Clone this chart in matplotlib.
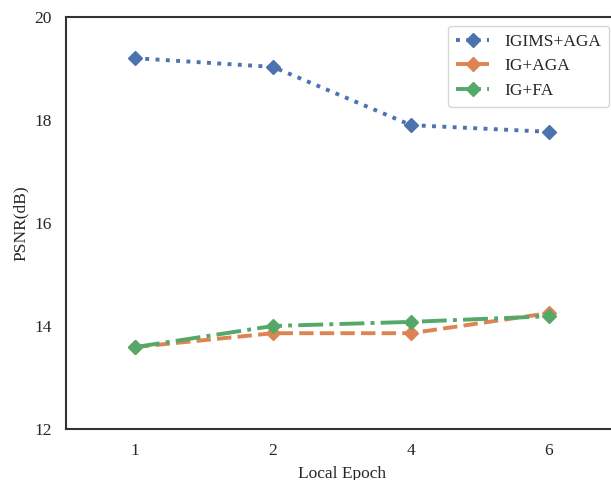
import matplotlib
matplotlib.use("Agg")
import matplotlib.pyplot as plt
import seaborn as sns

# data
epochs = ["1", "2", "4", "6"]
igims_aga = [19.20, 19.03, 17.90, 17.77]
ig_aga = [13.59, 13.86, 13.86, 14.25]
ig_fa = [13.59, 14.00, 14.08, 14.19]

sns.set_theme(style="white")
plt.rcParams['font.family'] = ['Liberation Serif', 'DejaVu Serif']

colors = sns.color_palette("deep")

fig = plt.figure(figsize=(6.11, 4.8), dpi=100)
ax = fig.add_axes([0.108, 0.10625, 0.9035, 0.8584])

x = range(len(epochs))
ax.plot(x, igims_aga, linestyle=':', marker='D', color=colors[0], lw=2.8, ms=7.5, label='IGIMS+AGA')
ax.plot(x, ig_aga, linestyle='--', marker='D', color=colors[1], lw=2.8, ms=7.5, label='IG+AGA')
ax.plot(x, ig_fa, linestyle='-.', marker='D', color=colors[2], lw=2.8, ms=7.5, label='IG+FA')

ax.set_xticks(list(x))
ax.set_xticklabels(epochs)
ax.set_xlim(-0.5, 3.5)
ax.set_ylim(12, 20)
ax.set_yticks([12, 14, 16, 18, 20])
ax.tick_params(labelsize=12.5, length=0)
ax.tick_params(axis='y', pad=10)
ax.tick_params(axis='x', pad=10)
ax.set_xlabel("Local Epoch", fontsize=12.5, labelpad=5)
ax.set_ylabel("PSNR(dB)", fontsize=12.5, labelpad=4)
for s in ax.spines.values():
    s.set_color('#333333')
    s.set_linewidth(1.5)

ax.legend(loc='upper right', bbox_to_anchor=(1.0, 1.0), fontsize=12.5, frameon=True,
          handlelength=1.9, handletextpad=0.9, borderpad=0.45)

fig.savefig("out.png", dpi=100)
